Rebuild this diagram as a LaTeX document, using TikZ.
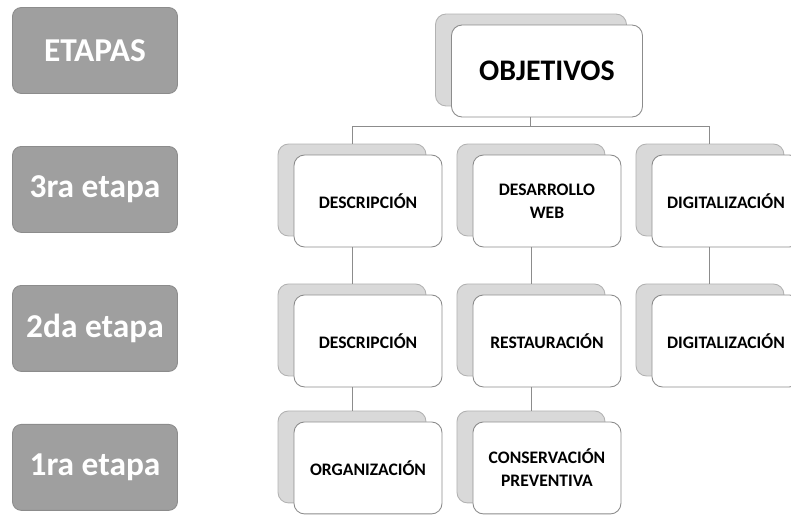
\documentclass[tikz,border=0pt]{standalone}
\usepackage{fontspec}
\setmainfont{Carlito}
\usetikzlibrary{shadows,calc}

\begin{document}
\begin{tikzpicture}[x=0.02cm,y=-0.02cm,-,line width=0.5pt,
    etapa node/.style={rounded corners=5pt,draw=gray!90,fill=gray!75,text=white,minimum width=3.3cm,minimum height=1.72cm,font=\bfseries\fontsize{19}{22}\selectfont},
    obj node/.style={rounded corners=6pt,draw=gray!90,fill=white,align=center,minimum width=2.96cm,minimum height=1.84cm,font=\bfseries\fontsize{10}{13}\selectfont,
        general shadow={fill=gray!30,draw=gray!60,shadow xshift=-0.32cm,shadow yshift=0.22cm}},
    link/.style={draw=gray!90}]
            \useasboundingbox (0,0) rectangle (791,519);

            % etapas
            \node[etapa node] (etapas) at (95,50.5) {ETAPAS};
            \node[etapa node] (e3) [below of=etapas, node distance=2.78cm] {3ra etapa};
            \node[etapa node] (e2) [below of=e3, node distance=2.78cm] {2da etapa};
            \node[etapa node] (e1) [below of=e2, node distance=2.78cm] {1ra etapa};

            % objetivos
            \node[obj node, minimum width=3.82cm, font=\bfseries\fontsize{17}{20}\selectfont] (obj) at (547,71) {OBJETIVOS};

            \node[obj node] (d3) at (368,201) {DESCRIPCIÓN};
            \node[obj node] (w3) [right of=d3, node distance=3.58cm] {DESARROLLO\\WEB};
            \node[obj node] (g3) [right of=w3, node distance=3.58cm] {DIGITALIZACIÓN};

            \node[obj node] (d2) [below of=d3, node distance=2.8cm] {DESCRIPCIÓN};
            \node[obj node] (r2) [right of=d2, node distance=3.58cm] {RESTAURACIÓN};
            \node[obj node] (g2) [right of=r2, node distance=3.58cm] {DIGITALIZACIÓN};

            \node[obj node] (o1) [below of=d2, node distance=2.54cm] {ORGANIZACIÓN};
            \node[obj node] (c1) [right of=o1, node distance=3.58cm] {CONSERVACIÓN\\PREVENTIVA};

            \draw[link] ($(obj.south)+(-17,0)$) -- ++(0,9) coordinate (fork);
            \draw[link] ($(d3.north)+(-16,-11)$) |- (fork) -| ($(g3.north)+(-16,-11)$);
            \draw[link] ($(w3.north)+(-16,-11)$) -- ($(w3.north)+(-16,-11)$ |- fork);

            \path[link]
                ($(d3.south)+(-16,0)$) edge ($(d2.north)+(-16,-11)$)
                ($(w3.south)+(-16,0)$) edge ($(r2.north)+(-16,-11)$)
                ($(g3.south)+(-16,0)$) edge ($(g2.north)+(-16,-11)$)

                ($(d2.south)+(-16,0)$) edge ($(o1.north)+(-16,-11)$)
                ($(r2.south)+(-16,0)$) edge ($(c1.north)+(-16,-11)$)
                ;
        \end{tikzpicture}
\end{document}
